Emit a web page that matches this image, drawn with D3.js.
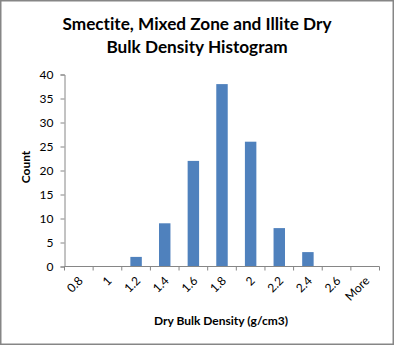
<!DOCTYPE html>
<html>
<head>
<meta charset="utf-8">
<script src="https://cdn.jsdelivr.net/npm/d3@7/dist/d3.min.js"></script>
<style>
  html, body { margin: 0; padding: 0; background: #fff; }
  svg { display: block; font-family: Lato, "Open Sans", sans-serif; font-variant-ligatures: none; }
</style>
</head>
<body>
<svg id="chart" width="395" height="346"></svg>
<script>
// Histogram bins (upper edge labels) and their counts
const bins = ["0.8", "1", "1.2", "1.4", "1.6", "1.8", "2", "2.2", "2.4", "2.6", "More"];
const counts = [0, 0, 2, 9, 22, 38, 26, 8, 3, 0, 0];
const yTicks = [0, 5, 10, 15, 20, 25, 30, 35, 40];
const titleLines = ["Smectite, Mixed Zone and Illite Dry", "Bulk Density Histogram"];
const xTitle = "Dry Bulk Density (g/cm3)";
const yTitle = "Count";

const svg = d3.select("#chart");
const axisColor = "#868686";
const barColor = "#4f81bd";

// Chart frame
svg.append("rect")
  .attr("x", 0.75).attr("y", 0.75)
  .attr("width", 392.5).attr("height", 343.5)
  .attr("fill", "#fff")
  .attr("stroke", axisColor).attr("stroke-width", 1.5);

const plot = { left: 64.5, right: 379.5, top: 74.5, bottom: 266.5 };

const x = d3.scaleBand().domain(bins).range([plot.left, plot.right]).paddingInner(0).paddingOuter(0);
const y = d3.scaleLinear().domain([0, 40]).range([plot.bottom, plot.top]);

// Title
svg.append("text")
  .attr("x", 197).attr("y", 30)
  .attr("text-anchor", "middle")
  .style("font-weight", "bold").style("font-size", "17.2px")
  .selectAll("tspan").data(titleLines).join("tspan")
  .attr("x", 197).attr("dy", (d, i) => i === 0 ? 0 : 23)
  .text(d => d);

// Bars (bar width = 40% of bin width)
const bw = x.bandwidth() * 0.4;
svg.append("g").selectAll("rect").data(counts).join("rect")
  .attr("x", (d, i) => x(bins[i]) + (x.bandwidth() - bw) / 2)
  .attr("y", d => y(d))
  .attr("width", bw)
  .attr("height", d => y(0) - y(d))
  .attr("fill", barColor);

// Y axis
const yAxis = svg.append("g")
  .attr("transform", `translate(${plot.left},0)`)
  .call(d3.axisLeft(y).tickValues(yTicks).tickSize(4).tickPadding(7));
yAxis.select(".domain").attr("stroke", axisColor);
yAxis.selectAll(".tick line").attr("stroke", axisColor);
yAxis.selectAll(".tick text")
  .attr("fill", "#000").style("font-size", "12px").style("font-family", "Lato, sans-serif");

// X axis: ticks on bin boundaries
const xAxisG = svg.append("g").attr("transform", `translate(0,${plot.bottom})`);
xAxisG.append("line")
  .attr("x1", plot.left).attr("x2", plot.right)
  .attr("stroke", axisColor);
const edges = bins.map(b => x(b)).concat([x(bins[bins.length - 1]) + x.bandwidth()]);
xAxisG.selectAll("line.tk").data(edges).join("line")
  .attr("class", "tk")
  .attr("x1", d => d).attr("x2", d => d)
  .attr("y1", 0).attr("y2", 4)
  .attr("stroke", axisColor);
xAxisG.selectAll("text").data(bins).join("text")
  .attr("transform", d => `translate(${x(d) + x.bandwidth() / 2 + 2},${12}) rotate(-45)`)
  .attr("text-anchor", "end")
  .attr("dy", "0.35em")
  .style("font-size", "12px")
  .text(d => d);

// Axis titles
svg.append("text")
  .attr("x", 221).attr("y", 325)
  .attr("text-anchor", "middle")
  .style("font-weight", "bold").style("font-size", "12px")
  .text(xTitle);

svg.append("text")
  .attr("transform", "translate(30,167) rotate(-90)")
  .attr("text-anchor", "middle")
  .style("font-weight", "bold").style("font-size", "12px")
  .text(yTitle);
</script>
</body>
</html>
